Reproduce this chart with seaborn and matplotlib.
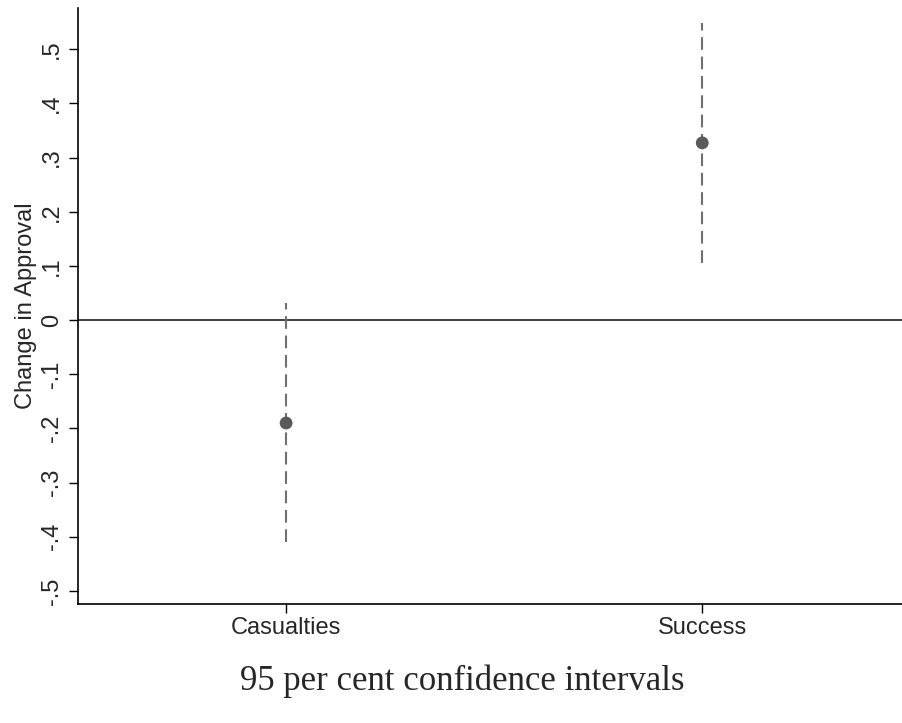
import matplotlib
matplotlib.use('Agg')
import matplotlib.pyplot as plt
import pandas as pd
import seaborn as sns

# effect estimates and 95% bounds
categories = ['Casualties', 'Success']
estimates = [-0.19, 0.327]
ci_low = [-0.41, 0.105]
ci_high = [0.031, 0.548]
ytick_vals = [-0.5, -0.4, -0.3, -0.2, -0.1, 0, 0.1, 0.2, 0.3, 0.4, 0.5]
ytick_labels = ['-.5', '-.4', '-.3', '-.2', '-.1', '0', '.1', '.2', '.3', '.4', '.5']

df = pd.DataFrame({'effect': categories, 'est': estimates, 'lo': ci_low, 'hi': ci_high})

sns.set_style('white')
plt.rcParams['font.family'] = ['Liberation Sans', 'DejaVu Sans']

fig = plt.figure(figsize=(9.02, 7.23), dpi=100)
ax = fig.add_axes([0.0865, 0.1646, 0.9135, 0.8244])

ax.axhline(0, color='#404040', lw=1.4, zorder=1)
ax.vlines(df['effect'], df['lo'], df['hi'], colors='#707070', lw=1.5,
          linestyles=(0, (6.1, 3.2)), zorder=2)
sns.scatterplot(data=df, x='effect', y='est', ax=ax, color='#5a5a5a', s=85,
                edgecolor='none', zorder=3)

ax.set_xlim(-0.5, 1.48)
ax.set_ylim(-0.524, 0.576)
ax.set_yticks(ytick_vals)
ax.set_yticklabels(ytick_labels, rotation=90, va='center', fontsize=17)
ax.tick_params(axis='x', labelsize=17, pad=3)
ax.tick_params(axis='y', pad=4.5)
ax.tick_params(axis='both', direction='out', length=6.5, width=1, color='black',
               left=True, bottom=True)
ax.set_xlabel('')
ax.set_ylabel('Change in Approval', fontsize=17, labelpad=3)

for side in ['top', 'right']:
    ax.spines[side].set_visible(False)
for side in ['left', 'bottom']:
    ax.spines[side].set_color('black')
    ax.spines[side].set_linewidth(1.2)

fig.text(0.512, 0.058, '95 per cent confidence intervals', ha='center', va='center',
         fontsize=25, family=['Liberation Serif', 'DejaVu Serif'])

fig.savefig('out.png', dpi=100)
